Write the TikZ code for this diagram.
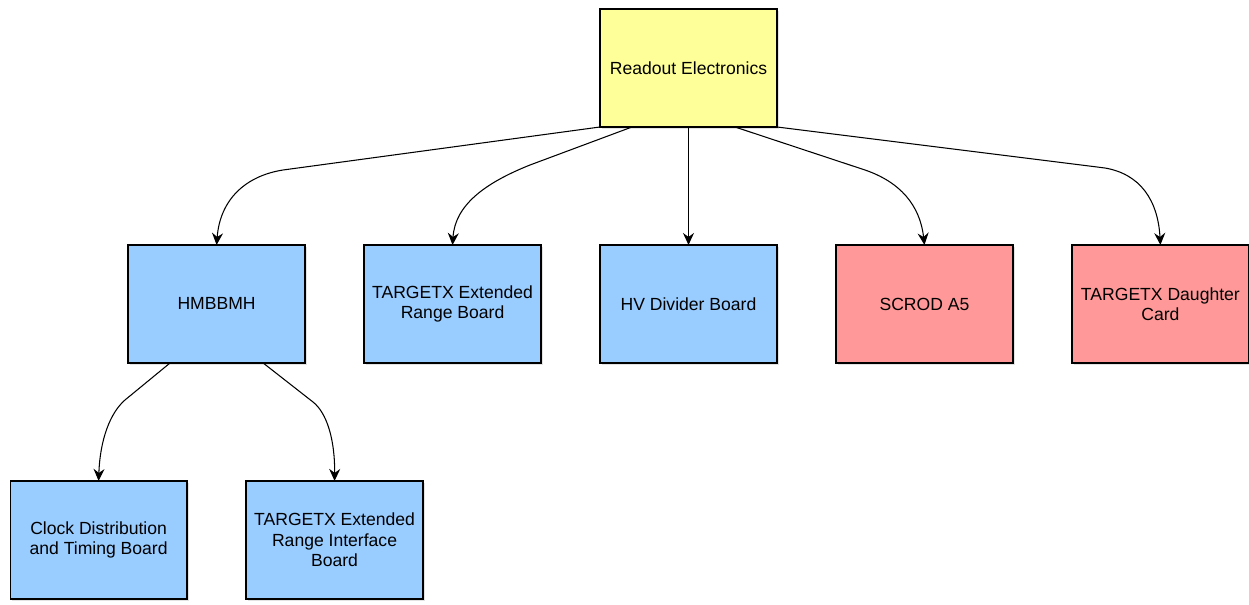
\documentclass[tikz,border=0pt]{standalone}
\usepackage{fontspec}
\setmainfont{Liberation Sans}
\usepackage{xcolor}
\usepackage{tikz}
\usetikzlibrary{arrows.meta,positioning,shadows}
\definecolor{rofill}{HTML}{FFFF99}
\definecolor{bdfill}{HTML}{99CCFF}
\definecolor{extfill}{HTML}{FF9999}
\tikzset{
  box/.style={draw, line width=0.7pt, align=center, font=\fontsize{10}{11.5}\selectfont,
    minimum width=3.54cm, minimum height=2.36cm, inner sep=2pt, outer sep=0pt,
    drop shadow={opacity=0.22, shadow xshift=1.2pt, shadow yshift=-1.2pt}},
  top/.style={box, fill=rofill},
  board/.style={box, fill=bdfill},
  ext/.style={box, fill=extfill},
  arr/.style={-{Stealth[length=2.4mm, width=2.2mm, inset=0.8mm]}, line width=0.6pt}}

\begin{document}
\begin{tikzpicture}[x=0.02cm, y=-0.02cm, node distance=2.36cm and 1.18cm]
  \useasboundingbox (0,0) rectangle (1249,605);
  \node[top] (ro) at (688.5,68) {Readout Electronics};
  % second row
  \node[board, below=of ro] (hv) {HV Divider Board};
  \node[board, left=of hv] (tx) {TARGETX Extended\\Range Board};
  \node[board, left=of tx] (hm) {HMBBMH};
  \node[ext, right=of hv] (sc) {SCROD A5};
  \node[ext, right=of sc] (dc) {TARGETX Daughter\\Card};
  % below HMBBMH
  \node[board, below=of hm, xshift=-2.36cm] (ck) {Clock Distribution\\and Timing Board};
  \node[board, right=of ck] (eri) {TARGETX Extended\\Range Interface\\Board};

  \draw[arr] (ro.south west) -- (283,170) .. controls (245,176) and (220,200) .. (hm.north);
  \draw[arr] ([xshift=0.64cm]ro.south west) -- (530,165) .. controls (485,183) and (455,205) .. (tx.north);
  \draw[arr] (ro.south) -- (hv.north);
  \draw[arr] ([xshift=-0.84cm]ro.south east) -- (865,170) .. controls (900,182) and (920,205) .. (sc.north);
  \draw[arr] (ro.south east) -- (1105,168) .. controls (1140,174) and (1158,200) .. (dc.north);
  \draw[arr] ([xshift=0.84cm]hm.south west) -- (125,400) .. controls (110,413) and (100,440) .. (ck.north);
  \draw[arr] ([xshift=-0.84cm]hm.south east) -- (313,402) .. controls (327,413) and (335,440) .. (eri.north);
\end{tikzpicture}
\end{document}
